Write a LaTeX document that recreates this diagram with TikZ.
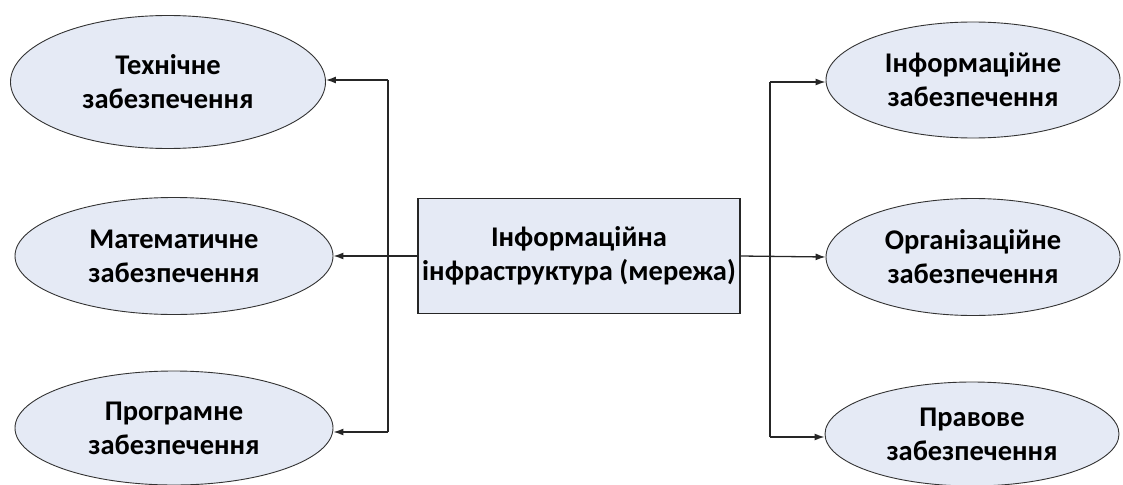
\documentclass[tikz,border=0pt]{standalone}
\usepackage{fontspec}
\setmainfont{Carlito}
\usetikzlibrary{shapes.geometric,arrows.meta}

\definecolor{partfill}{RGB}{229,234,245}

\begin{document}
\begin{tikzpicture}[x=1pt, y=-1pt,
        part/.style={ellipse, draw=black!80, line width=0.9pt, fill=partfill,
            inner sep=0pt, align=center, font=\fontsize{28.5}{34}\selectfont\bfseries},
        core/.style={rectangle, draw=black!85, line width=1.3pt, fill=partfill,
            minimum width=322pt, minimum height=115pt, inner sep=0pt,
            align=center, font=\fontsize{28.5}{34}\selectfont\bfseries},
        link/.style={draw=black!85, line width=1.3pt, -{Latex[length=10pt,width=7pt]}},
        bus/.style={draw=black!85, line width=1.3pt}]

        \useasboundingbox (0, 0) rectangle (1123, 484);

        \node[core] (net) at (579, 256) {Інформаційна\\інфраструктура (мережа)};

        \node[part, minimum width=315pt, minimum height=133pt] (tech) at (168, 82) {Технічне\\забезпечення};
        \node[part, minimum width=318pt, minimum height=117pt] (math) at (174, 256) {Математичне\\забезпечення};
        \node[part, minimum width=318pt, minimum height=114pt] (soft) at (174, 428) {Програмне\\забезпечення};

        \node[part, minimum width=294pt, minimum height=116pt] (info) at (973, 80) {Інформаційне\\забезпечення};
        \node[part, minimum width=294pt, minimum height=117pt] (org) at (973, 257) {Організаційне\\забезпечення};
        \node[part, minimum width=294pt, minimum height=104pt] (law) at (972, 434) {Правове\\забезпечення};

        \coordinate (lt) at (388, 80);
        \coordinate (lb) at (388, 432);
        \coordinate (rt) at (770, 82);
        \coordinate (rb) at (770, 437);

        \draw[bus] (lt) -- (lb);
        \draw[bus] (rt) -- (rb);

        \draw[link] (net.west) -- (math.east);
        \draw[link] (lt) -- (lt -| tech.east);
        \draw[link] (lb) -- (lb -| soft.east);

        \draw[link] (net.east) -- (org.west);
        \draw[link] (rt) -- (rt -| info.west);
        \draw[link] (rb) -- (rb -| law.west);
    \end{tikzpicture}
\end{document}
